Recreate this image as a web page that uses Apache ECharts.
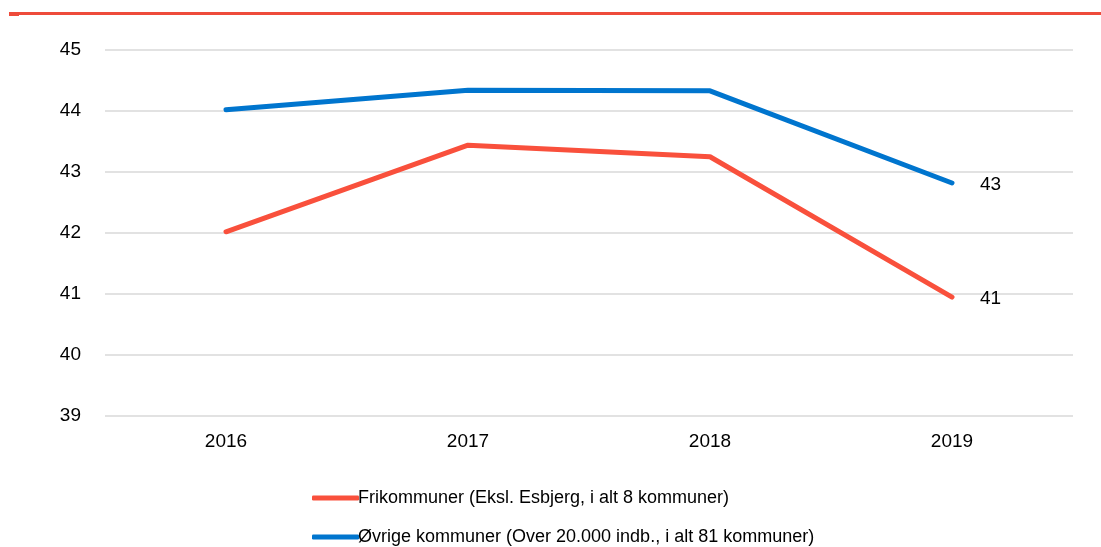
<!DOCTYPE html>
<html>
<head>
<meta charset="utf-8">
<script src="https://cdn.jsdelivr.net/npm/echarts@6/dist/echarts.min.js"></script>
<style>
  html, body { margin: 0; padding: 0; background: #fff; }
  #chart { width: 1101px; height: 547px; }
</style>
</head>
<body>
<div id="chart"></div>
<script>
// data
var years = ['2016', '2017', '2018', '2019'];
var friNavn = 'Frikommuner (Eksl. Esbjerg, i alt 8 kommuner)';
var ovrNavn = 'Øvrige kommuner (Over 20.000 indb., i alt 81 kommuner)';
var friData = [42.02, 43.44, 43.25, 40.95];
var ovrData = [44.02, 44.34, 44.33, 42.82];

var myChart = echarts.init(document.getElementById('chart'));

// label ved sidste punkt, afrundet
function endLbl(p) {
    return Math.round(p.value);
}

// en legend pr. serie, så de står under hinanden
function legendItem(navn, top) {
    return {
        left: 307,
        top: top,
        itemWidth: 47,
        itemHeight: 5,
        icon: 'roundRect',
        textStyle: { fontSize: 18, color: '#000', padding: [0, 0, 0, -6] },
        data: [navn]
    };
}

var option = {
    animation: false,
    textStyle: { fontFamily: 'Liberation Sans, Arial, sans-serif' },
    graphic: [
        { type: 'rect', shape: { x: 9, y: 12, width: 1092, height: 3 }, style: { fill: '#EE4B3B' } },
        { type: 'rect', shape: { x: 9, y: 14, width: 10, height: 2 }, style: { fill: '#EE4B3B' } }
    ],
    grid: { left: 105, right: 28, top: 50, bottom: 131 },
    legend: [legendItem(friNavn, 484), legendItem(ovrNavn, 523)],
    xAxis: {
        type: 'category',
        data: years,
        boundaryGap: true,
        axisLine: { show: false },
        axisTick: { show: false },
        axisLabel: { fontSize: 19, color: '#000', margin: 16 }
    },
    yAxis: {
        type: 'value',
        min: 39,
        max: 45,
        interval: 1,
        axisLine: { show: false },
        axisTick: { show: false },
        axisLabel: { fontSize: 19, color: '#000', margin: 24 },
        splitLine: { lineStyle: { color: '#d9d9d9', width: 1.5 } }
    },
    series: [{
        name: friNavn,
        type: 'line',
        data: friData,
        showSymbol: false,
        lineStyle: { color: '#F9503C', width: 5, cap: 'round' },
        itemStyle: { color: '#F9503C' },
        endLabel: { show: true, distance: 28, offset: [0, 2], fontSize: 19, color: '#000', formatter: endLbl }
    }, {
        name: ovrNavn,
        type: 'line',
        data: ovrData,
        showSymbol: false,
        lineStyle: { color: '#0075CE', width: 5, cap: 'round' },
        itemStyle: { color: '#0075CE' },
        endLabel: { show: true, distance: 28, offset: [0, 2], fontSize: 19, color: '#000', formatter: endLbl }
    }]
};

myChart.setOption(option);
</script>
</body>
</html>
